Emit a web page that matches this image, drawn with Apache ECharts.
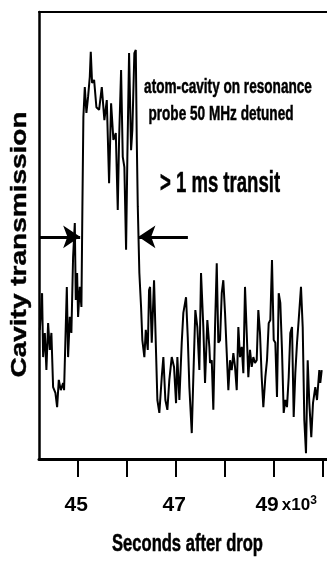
<!DOCTYPE html>
<html>
<head>
<meta charset="utf-8">
<title>Cavity transmission</title>
<script src="https://cdn.jsdelivr.net/npm/echarts@6/dist/echarts.min.js"></script>
<style>
  html, body { margin: 0; padding: 0; background: #fff; }
  #chart { width: 327px; height: 562px; }
</style>
</head>
<body>
<div id="chart"></div>
<script>
// Probe transmission trace, time in units of 10^-3 s after the drop
const timeMs = [
  44.227, 44.273, 44.294, 44.329, 44.361, 44.396, 44.431, 44.463, 44.498, 44.545,
  44.580, 44.614, 44.655, 44.702, 44.722, 44.749, 44.778, 44.804, 44.839, 44.871,
  44.906, 44.941, 44.961, 44.988, 45.008, 45.043, 45.076, 45.096, 45.116, 45.145,
  45.178, 45.212, 45.247, 45.267, 45.294, 45.335, 45.382,
  45.437, 45.492, 45.545, 45.594, 45.641, 45.682, 45.729, 45.778, 45.818, 45.845,
  45.886, 45.920, 45.953, 45.988, 46.014, 46.049, 46.090, 46.116, 46.157, 46.186,
  46.206, 46.227, 46.259, 46.294, 46.320, 46.361, 46.390, 46.431, 46.457,
  46.478, 46.512, 46.559, 46.600, 46.627, 46.667, 46.716, 46.749, 46.790, 46.831,
  46.871, 46.920, 46.967, 47.008, 47.035, 47.076, 47.124, 47.157, 47.212, 47.247,
  47.280, 47.329, 47.361, 47.402, 47.443, 47.484, 47.518, 47.565, 47.600, 47.647,
  47.688,
  47.702, 47.737, 47.769, 47.804, 47.839, 47.871, 47.906, 47.941, 47.973, 48.008,
  48.043, 48.076, 48.110, 48.145, 48.178, 48.212, 48.247, 48.280, 48.314, 48.349,
  48.382, 48.416, 48.451, 48.484, 48.518, 48.553, 48.586, 48.620, 48.655, 48.688,
  48.722, 48.757, 48.790,
  48.831, 48.865, 48.900, 48.933, 48.967, 49.002, 49.035, 49.069, 49.104, 49.137,
  49.171, 49.206, 49.239, 49.273, 49.308, 49.341, 49.376, 49.410, 49.443, 49.478,
  49.512, 49.559, 49.594, 49.627, 49.661, 49.696, 49.729, 49.769, 49.804, 49.851,
  49.886, 49.933, 49.953, 49.982
];

// Transmitted intensity, arbitrary units
const transmission = [
  28.9, 37.1, 22.8, 28.2, 19.9, 30.4, 24.4, 28.2, 16.1, 14.8,
  11.6, 17.7, 15.4, 17.0, 15.4, 26.6, 38.5, 22.8, 31.8, 28.2,
  45.2, 52.8, 35.6, 41.6, 31.8, 38.5, 34.0, 56.4, 76.5, 83.2,
  77.4, 81.0, 85.5, 91.1, 84.1, 84.8, 78.7,
  78.1, 83.2, 75.8, 80.3, 61.7, 79.6, 71.4, 72.9, 55.7, 71.4,
  87.0, 67.6, 65.3, 46.8, 67.6, 90.8, 69.1, 73.6, 90.8, 91.5,
  71.4, 56.4, 41.6, 34.0, 26.6, 22.8, 28.9, 24.4, 37.8,
  38.5, 26.0, 40.0, 23.7, 13.2, 10.3, 18.3, 22.8, 13.2, 11.0,
  17.7, 22.8, 20.6, 12.5, 22.8, 13.2, 26.0, 32.7, 36.2, 27.3,
  16.1, 5.8, 18.3, 33.3, 29.5, 19.9, 41.6, 29.5, 17.0, 31.1,
  25.1,
  21.5, 22.1, 11.0, 29.5, 43.8, 26.0, 26.6, 37.1, 40.0, 32.7,
  23.7, 15.4, 22.1, 19.9, 23.7, 20.6, 15.4, 29.5, 22.8, 25.1,
  19.2, 38.5, 28.2, 18.3, 24.4, 20.6, 22.8, 21.5, 22.1, 33.3,
  28.2, 18.3, 11.6,
  18.3, 22.1, 30.4, 31.1, 44.5, 26.6, 26.0, 13.9, 37.1, 34.9,
  24.4, 10.3, 13.2, 11.6, 18.3, 28.2, 29.5, 9.4, 19.2, 26.0,
  31.1, 38.5, 29.5, 8.7, 1.3, 22.1, 12.5, 4.9, 12.5, 16.1,
  13.2, 19.9, 17.0, 19.9
];

// Axis ticks and labelled ticks
const tickValues = [45, 46, 47, 48, 49, 50];
const labelValues = [45, 47, 49];

// Edges of the transit marked by the two arrows
const transitStart = 45.05;
const transitEnd = 46.24;
const arrowLevel = 49.7;

const sans = '"Liberation Sans", Arial, Helvetica, sans-serif';

function boldText(text, size) {
  return { text: text, fontFamily: sans, fontWeight: 'bold', fontSize: size,
    fill: '#000', stroke: '#000', lineWidth: 0.5, align: 'center', verticalAlign: 'middle' };
}

const chart = echarts.init(document.getElementById('chart'), null, { renderer: 'canvas' });

chart.setOption({
  animation: false,
  backgroundColor: '#fff',
  grid: { left: 39, right: 0, top: 12, bottom: 103, containLabel: false },
  xAxis: [{
    type: 'value',
    min: 44.21,
    max: 50.09,
    splitLine: { show: false },
    axisLine: { show: true, onZero: false, lineStyle: { color: '#000', width: 3 } },
    axisTick: { show: true, inside: false, length: 18, customValues: tickValues,
      lineStyle: { color: '#000', width: 2 } },
    axisLabel: {
      show: true,
      customValues: labelValues,
      margin: 36,
      color: '#000',
      fontFamily: sans,
      fontWeight: 'bold',
      fontSize: 21,
      formatter: function (v) {
        if (Math.abs(v - 49) < 1e-6) return '{sp|\u00a0}{n|49}{u|x10}{e|3}';
        return '{n|' + Math.round(v) + '}';
      },
      rich: {
        n: { fontFamily: sans, fontWeight: 'bold', fontSize: 21, color: '#000', padding: [0, 3, 0, 0] },
        u: { fontFamily: sans, fontWeight: 'bold', fontSize: 17, color: '#000' },
        e: { fontFamily: sans, fontWeight: 'bold', fontSize: 12, color: '#000',
          verticalAlign: 'top', padding: [0, 0, 9, 0] },
        sp: { width: 25, fontSize: 21 }
      }
    }
  }, {
    type: 'value',
    position: 'top',
    min: 44.21,
    max: 50.09,
    splitLine: { show: false },
    axisLine: { show: true, onZero: false, lineStyle: { color: '#000', width: 2 } },
    axisTick: { show: false },
    axisLabel: { show: false }
  }],
  yAxis: {
    type: 'value',
    min: 0,
    max: 100,
    splitLine: { show: false },
    axisLine: { show: true, onZero: false, lineStyle: { color: '#000', width: 2.5 } },
    axisTick: { show: false },
    axisLabel: { show: false }
  },
  series: [{
    type: 'line',
    xAxisIndex: 0,
    data: timeMs.map(function (t, i) { return [t, transmission[i]]; }),
    showSymbol: false,
    lineStyle: { color: '#000', width: 2 },
    markLine: {
      silent: true,
      animation: false,
      symbol: ['none', 'arrow'],
      symbolSize: 17,
      label: { show: false },
      lineStyle: { color: '#000', width: 3, type: 'solid' },
      data: [
        [{ coord: [44.21, arrowLevel] }, { coord: [transitStart, arrowLevel] }],
        [{ coord: [47.25, arrowLevel] }, { coord: [transitEnd, arrowLevel] }]
      ]
    }
  }],
  graphic: [
    // axis titles, condensed to the narrow lettering of the figure
    { type: 'text', x: 187.5, y: 545, scaleX: 0.72, style: boldText('Seconds after drop', 23) },
    { type: 'text', x: 20, y: 244.5, rotation: Math.PI / 2, scaleY: 0.8,
      style: boldText('Cavity transmission', 28) },
    // annotations
    { type: 'text', x: 228, y: 87, scaleX: 0.68, style: boldText('atom-cavity on resonance', 20) },
    { type: 'text', x: 221, y: 114, scaleX: 0.68, style: boldText('probe 50 MHz detuned', 20) },
    { type: 'text', x: 220, y: 184, scaleX: 0.64, style: boldText('> 1 ms transit', 29) }
  ]
});
</script>
</body>
</html>
